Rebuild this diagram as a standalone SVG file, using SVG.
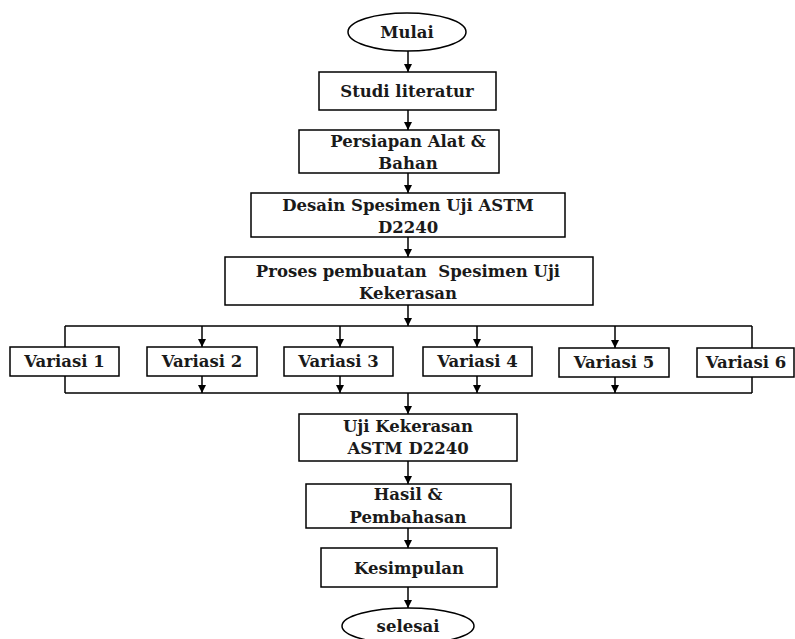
<svg xmlns="http://www.w3.org/2000/svg" width="795" height="639" viewBox="0 0 795 639">
<defs>
<marker id="ah" viewBox="0 0 8 8" refX="8" refY="4" markerWidth="8" markerHeight="8" markerUnits="userSpaceOnUse" orient="auto">
<path d="M0,0 L8,4 L0,8 Z" fill="#000"/>
</marker>
<style>
.b{fill:#fff;stroke:#000;stroke-width:1.5}
.t{font-family:"DejaVu Serif","Liberation Serif",serif;font-weight:bold;font-size:16.5px;fill:#1a1a1a;text-anchor:middle;white-space:pre}
.c{fill:none;stroke:#000;stroke-width:1.5}
.a{fill:none;stroke:#000;stroke-width:1.5;marker-end:url(#ah)}
</style>
</defs>
<rect width="795" height="639" fill="#fff"/>
<g id="connectors">
<line class="a" x1="408" y1="51" x2="408" y2="72"/>
<line class="a" x1="408" y1="110" x2="408" y2="130"/>
<line class="a" x1="408" y1="173" x2="408" y2="193"/>
<line class="a" x1="408" y1="237" x2="408" y2="257"/>
<line class="a" x1="408" y1="305" x2="408" y2="326"/>
<line class="c" x1="65" y1="326" x2="752" y2="326"/>
<line class="c" x1="65" y1="326" x2="65" y2="347"/>
<line class="c" x1="65" y1="376" x2="65" y2="393"/>
<line class="c" x1="752" y1="326" x2="752" y2="348"/>
<line class="c" x1="752" y1="377" x2="752" y2="393"/>
<line class="a" x1="202" y1="326" x2="202" y2="347"/>
<line class="a" x1="340" y1="326" x2="340" y2="347"/>
<line class="a" x1="477" y1="326" x2="477" y2="347"/>
<line class="a" x1="615" y1="326" x2="615" y2="348"/>
<line class="a" x1="202" y1="376" x2="202" y2="393"/>
<line class="a" x1="340" y1="376" x2="340" y2="393"/>
<line class="a" x1="477" y1="376" x2="477" y2="393"/>
<line class="a" x1="615" y1="377" x2="615" y2="393"/>
<line class="c" x1="65" y1="393" x2="752" y2="393"/>
<line class="a" x1="408" y1="393" x2="408" y2="414"/>
<line class="a" x1="408" y1="461" x2="408" y2="484"/>
<line class="a" x1="408" y1="528" x2="408" y2="548"/>
<line class="a" x1="408" y1="587" x2="408" y2="608"/>
</g>
<g id="mulai"><ellipse class="b" cx="407" cy="32" rx="59" ry="19"/><text class="t" x="407" y="38">Mulai</text></g>
<g id="studi"><rect class="b" x="319" y="72" width="177" height="38"/><text class="t" x="407" y="97">Studi literatur</text></g>
<g id="persiapan"><rect class="b" x="299" y="130" width="200" height="43"/><text class="t" x="408" y="147">Persiapan Alat &amp;</text><text class="t" x="408" y="169">Bahan</text></g>
<g id="desain"><rect class="b" x="251" y="193" width="314" height="44"/><text class="t" x="408" y="211">Desain Spesimen Uji ASTM</text><text class="t" x="408" y="233">D2240</text></g>
<g id="proses"><rect class="b" x="225" y="257" width="368" height="48"/><text class="t" x="408" y="277">Proses pembuatan  Spesimen Uji</text><text class="t" x="408" y="299">Kekerasan</text></g>
<g id="variasi1"><rect class="b" x="10" y="347" width="109" height="29"/><text class="t" x="64.5" y="367">Variasi 1</text></g>
<g id="variasi2"><rect class="b" x="147" y="347" width="110" height="29"/><text class="t" x="202" y="367">Variasi 2</text></g>
<g id="variasi3"><rect class="b" x="284" y="347" width="109" height="29"/><text class="t" x="338.5" y="367">Variasi 3</text></g>
<g id="variasi4"><rect class="b" x="423" y="347" width="109" height="29"/><text class="t" x="477.5" y="367">Variasi 4</text></g>
<g id="variasi5"><rect class="b" x="559" y="348" width="110" height="29"/><text class="t" x="614" y="368">Variasi 5</text></g>
<g id="variasi6"><rect class="b" x="697" y="348" width="97" height="29"/><text class="t" x="746" y="368">Variasi 6</text></g>
<g id="uji"><rect class="b" x="299" y="414" width="218" height="47"/><text class="t" x="408" y="432">Uji Kekerasan</text><text class="t" x="408" y="454">ASTM D2240</text></g>
<g id="hasil"><rect class="b" x="306" y="484" width="205" height="44"/><text class="t" x="408" y="500">Hasil &amp;</text><text class="t" x="408" y="523">Pembahasan</text></g>
<g id="kesimpulan"><rect class="b" x="321" y="548" width="176" height="39"/><text class="t" x="409" y="574">Kesimpulan</text></g>
<g id="selesai"><ellipse class="b" cx="408" cy="626" rx="66" ry="18"/><text class="t" x="408" y="632">selesai</text></g>
</svg>
